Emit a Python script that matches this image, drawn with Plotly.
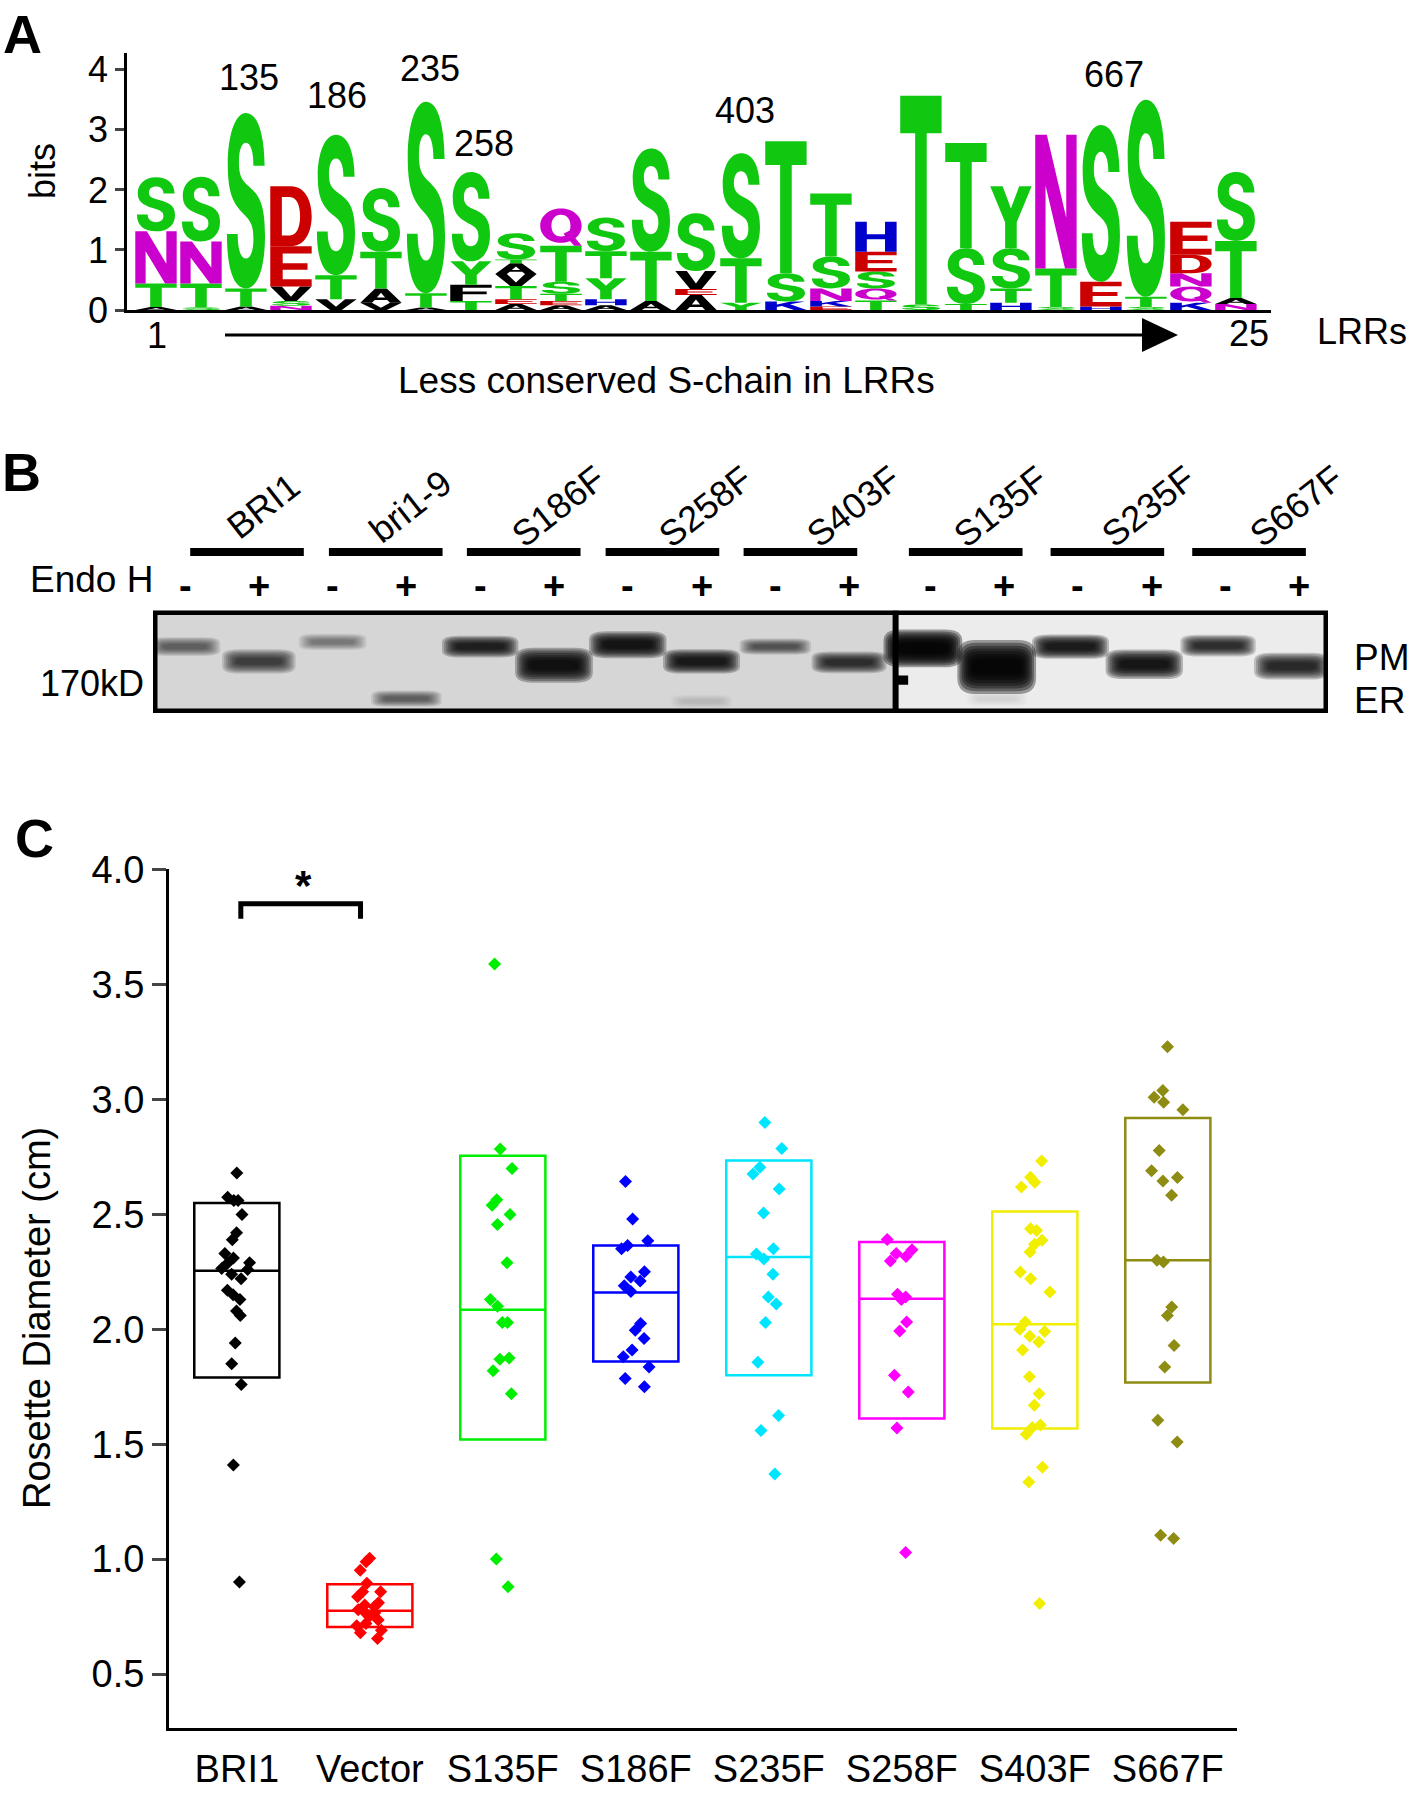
import plotly.graph_objects as go

W, H = 1417, 1794

# ---------------- panel A : sequence logo (letters bottom -> top, bits)
logo_positions = list(range(1, 26))
logo_letters = ["ATNS", "STNS", "ATS", "NSVED", "VTS", "VATS", "ATS", "TFYS",
                "AETVATS", "AETSTQ", "AHYTS", "ATS", "AEVS", "YTS", "KST",
                "EKNST", "TQSEH", "ST", "TST", "HTSY", "STN", "HES", "STS",
                "KQNDE", "NATS"]
logo_heights = [
    [0.05, 0.39, 0.87, 0.90], [0.04, 0.40, 0.70, 1.08], [0.06, 0.30, 2.92],
    [0.07, 0.08, 0.24, 0.67, 1.00], [0.18, 0.40, 2.34], [0.12, 0.24, 0.61, 1.06],
    [0.04, 0.24, 3.19], [0.15, 0.27, 0.39, 1.49],
    [0.10, 0.08, 0.22, 0.20, 0.18, 0.06, 0.44], [0.08, 0.07, 0.12, 0.20, 0.60, 0.62],
    [0.08, 0.10, 0.35, 0.45, 0.56], [0.15, 0.82, 1.72], [0.25, 0.10, 0.30, 0.96],
    [0.12, 0.74, 1.75], [0.14, 0.47, 2.20], [0.06, 0.09, 0.21, 0.53, 1.05],
    [0.16, 0.20, 0.28, 0.33, 0.50], [0.09, 3.48], [0.10, 0.93, 1.75],
    [0.12, 0.24, 0.67, 1.03], [0.05, 0.64, 2.23], [0.06, 0.41, 2.61],
    [0.05, 0.17, 3.28], [0.12, 0.27, 0.22, 0.31, 0.55], [0.10, 0.10, 0.95, 1.15]]
site_labels = ["135", "186", "235", "258", "403", "667"]

# ---------------- panel B : Endo H blot
blot_samples = ["BRI1", "bri1-9", "S186F", "S258F", "S403F", "S135F", "S235F", "S667F"]
endo_h = ["-", "+"] * 8
band_lane = [1, 2, 3, 4, 5, 6, 7, 8, 9, 10, 11, 12, 13, 14, 15, 16, 8, 12]
band_mobility = [34, 50, 29, 90, 34, 54, 32, 50, 34, 51, 36, 56, 34, 53, 33, 55, 93, 90]
band_intensity = [0.55, 0.70, 0.42, 0.55, 0.85, 0.92, 0.90, 0.88, 0.60, 0.78,
                  0.97, 0.97, 0.88, 0.90, 0.80, 0.82, 0.12, 0.10]
band_spread = [7, 9, 6, 6, 8, 13, 10, 9, 6, 8, 14, 20, 9, 11, 8, 10, 5, 6]

# ---------------- panel C : rosette diameter (cm)
genotypes = ["BRI1", "Vector", "S135F", "S186F", "S235F", "S258F", "S403F", "S667F"]
diam_bri1 = [2.68, 2.575, 2.56, 2.56, 2.50, 2.42, 2.39, 2.33, 2.31, 2.29, 2.29, 2.265,
             2.26, 2.24, 2.22, 2.17, 2.15, 2.13, 2.08, 2.06, 1.94, 1.85, 1.76, 1.41, 0.90]
diam_vector = [1.004, 0.988, 0.952, 0.895, 0.858, 0.858, 0.836, 0.81, 0.80, 0.793, 0.78,
               0.77, 0.765, 0.75, 0.735, 0.72, 0.71, 0.69, 0.68, 0.655]
diam_s135f = [3.59, 2.785, 2.70, 2.564, 2.54, 2.50, 2.456, 2.29, 2.13, 2.10, 2.03, 2.03,
              1.875, 1.87, 1.82, 1.72, 1.00, 0.88]
diam_s186f = [2.643, 2.48, 2.385, 2.365, 2.35, 2.25, 2.228, 2.21, 2.19, 2.165, 2.025,
              1.996, 1.96, 1.91, 1.88, 1.836, 1.786, 1.75]
diam_s235f = [2.90, 2.787, 2.705, 2.676, 2.61, 2.506, 2.35, 2.328, 2.306, 2.24, 2.14,
              2.11, 2.03, 1.857, 1.625, 1.56, 1.37]
diam_s258f = [2.391, 2.346, 2.33, 2.317, 2.297, 2.152, 2.14, 2.13, 2.032, 1.993, 1.80,
              1.727, 1.571, 1.029]
diam_s403f = [2.732, 2.662, 2.64, 2.619, 2.438, 2.43, 2.387, 2.37, 2.336, 2.249, 2.22,
              2.162, 2.032, 2.0, 1.99, 1.97, 1.945, 1.91, 1.793, 1.72, 1.67, 1.583,
              1.573, 1.543, 1.40, 1.336, 0.807]
diam_s667f = [3.23, 3.039, 3.01, 2.988, 2.955, 2.778, 2.69, 2.66, 2.645, 2.583, 2.30,
              2.293, 2.097, 2.06, 1.93, 1.836, 1.604, 1.51, 1.104, 1.09]
box_q1 = [1.79, 0.705, 1.52, 1.86, 1.80, 1.612, 1.568, 1.768]
box_median = [2.255, 0.775, 2.085, 2.16, 2.315, 2.133, 2.022, 2.30]
box_q3 = [2.55, 0.89, 2.755, 2.365, 2.735, 2.38, 2.513, 2.92]

diameters = [diam_bri1, diam_vector, diam_s135f, diam_s186f,
             diam_s235f, diam_s258f, diam_s403f, diam_s667f]
geno_colours = ["#000000", "#ff0000", "#00ee00", "#0000ff",
                "#00e5ff", "#ff00ff", "#f2ee00", "#8e8c13"]

FONT = "Liberation Sans, Arial, sans-serif"


def px(x):
    return x / W


def py(y):
    return 1 - y / H


# ---------- letter outlines in a unit box (y up)
def poly(*pts):
    return [("M", [pts[0]])] + [("L", [p]) for p in pts[1:]] + [("Z", [])]


GLYPHS = {
    "S": [[("M", [(0.95, 0.70)]),
           ("C", [(0.94, 0.90), (0.76, 1.00), (0.50, 1.00)]),
           ("C", [(0.22, 1.00), (0.06, 0.86), (0.06, 0.71)]),
           ("C", [(0.06, 0.55), (0.18, 0.49), (0.42, 0.43)]),
           ("C", [(0.64, 0.38), (0.68, 0.35), (0.68, 0.28)]),
           ("C", [(0.68, 0.21), (0.60, 0.17), (0.50, 0.17)]),
           ("C", [(0.38, 0.17), (0.30, 0.22), (0.30, 0.31)]),
           ("L", [(0.04, 0.31)]),
           ("C", [(0.04, 0.10), (0.22, 0.00), (0.50, 0.00)]),
           ("C", [(0.80, 0.00), (0.96, 0.13), (0.96, 0.30)]),
           ("C", [(0.96, 0.48), (0.82, 0.53), (0.58, 0.58)]),
           ("C", [(0.38, 0.62), (0.33, 0.65), (0.33, 0.72)]),
           ("C", [(0.33, 0.79), (0.40, 0.83), (0.50, 0.83)]),
           ("C", [(0.61, 0.83), (0.68, 0.78), (0.68, 0.70)]),
           ("Z", [])]],
    "T": [poly((0, 1), (1, 1), (1, 0.82), (0.64, 0.82), (0.64, 0), (0.36, 0), (0.36, 0.82), (0, 0.82))],
    "E": [poly((0, 0), (1, 0), (1, 0.18), (0.3, 0.18), (0.3, 0.42), (0.9, 0.42), (0.9, 0.58),
               (0.3, 0.58), (0.3, 0.82), (1, 0.82), (1, 1), (0, 1))],
    "F": [poly((0, 0), (0.3, 0), (0.3, 0.42), (0.88, 0.42), (0.88, 0.58), (0.3, 0.58),
               (0.3, 0.82), (1, 0.82), (1, 1), (0, 1))],
    "H": [poly((0, 0), (0.28, 0), (0.28, 0.42), (0.72, 0.42), (0.72, 0), (1, 0), (1, 1),
               (0.72, 1), (0.72, 0.58), (0.28, 0.58), (0.28, 1), (0, 1))],
    "N": [poly((0, 0), (0.25, 0), (0.25, 0.62), (0.72, 0), (1, 0), (1, 1), (0.75, 1),
               (0.75, 0.38), (0.28, 1), (0, 1))],
    "Y": [poly((0.36, 0), (0.64, 0), (0.64, 0.42), (1, 1), (0.7, 1), (0.5, 0.64), (0.3, 1),
               (0, 1), (0.36, 0.42))],
    "V": [poly((0.36, 0), (0.64, 0), (1, 1), (0.72, 1), (0.5, 0.3), (0.28, 1), (0, 1))],
    "K": [poly((0, 0), (0.28, 0), (0.28, 0.36), (0.40, 0.48), (0.70, 0), (1, 0), (0.60, 0.67),
               (0.96, 1), (0.62, 1), (0.28, 0.64), (0.28, 1), (0, 1))],
    "A": [poly((0, 0), (0.28, 0), (0.35, 0.2), (0.65, 0.2), (0.72, 0), (1, 0), (0.64, 1), (0.36, 1)),
          poly((0.40, 0.36), (0.5, 0.70), (0.60, 0.36))],
    "D": [[("M", [(0, 0)]), ("L", [(0.5, 0)]),
           ("C", [(0.84, 0), (1, 0.24), (1, 0.5)]),
           ("C", [(1, 0.76), (0.84, 1), (0.5, 1)]),
           ("L", [(0, 1)]), ("Z", [])],
          [("M", [(0.28, 0.18)]), ("L", [(0.28, 0.82)]), ("L", [(0.47, 0.82)]),
           ("C", [(0.64, 0.82), (0.72, 0.68), (0.72, 0.5)]),
           ("C", [(0.72, 0.32), (0.64, 0.18), (0.47, 0.18)]), ("Z", [])]],
    "Q": [[("M", [(0.5, 0.08)]),
           ("C", [(0.78, 0.08), (1, 0.28), (1, 0.54)]),
           ("C", [(1, 0.80), (0.78, 1), (0.5, 1)]),
           ("C", [(0.22, 1), (0, 0.80), (0, 0.54)]),
           ("C", [(0, 0.28), (0.22, 0.08), (0.5, 0.08)]), ("Z", [])],
          [("M", [(0.5, 0.25)]),
           ("C", [(0.35, 0.25), (0.27, 0.38), (0.27, 0.54)]),
           ("C", [(0.27, 0.70), (0.35, 0.83), (0.5, 0.83)]),
           ("C", [(0.65, 0.83), (0.73, 0.70), (0.73, 0.54)]),
           ("C", [(0.73, 0.38), (0.65, 0.25), (0.5, 0.25)]), ("Z", [])],
          poly((0.56, 0.32), (0.82, 0.0), (1.0, 0.0), (0.70, 0.40))],
}

AA_COLOUR = {"S": "#10c810", "T": "#10c810", "Y": "#10c810",
             "N": "#cc00cc", "Q": "#cc00cc",
             "D": "#cc0000", "E": "#cc0000",
             "H": "#0000cc", "K": "#0000cc",
             "A": "#000000", "V": "#000000", "F": "#000000"}


def glyph_path(letter, xc, y0, h, w=0.92):
    parts = []
    for sub in GLYPHS[letter]:
        for cmd, pts in sub:
            coords = " ".join(f"{xc - w / 2 + x * w:.4f},{y0 + y * h:.4f}" for x, y in pts)
            parts.append(cmd + coords)
    return " ".join(parts)


def rounded_rect(xc, yc, hw, hh):
    rx, ry = hw * 0.45, hh * 0.6
    x0, x1, y0, y1 = xc - hw, xc + hw, yc - hh, yc + hh
    return (f"M{x0 + rx},{y0} L{x1 - rx},{y0} Q{x1},{y0} {x1},{y0 + ry} L{x1},{y1 - ry} "
            f"Q{x1},{y1} {x1 - rx},{y1} L{x0 + rx},{y1} Q{x0},{y1} {x0},{y1 - ry} "
            f"L{x0},{y0 + ry} Q{x0},{y0} {x0 + rx},{y0} Z")


def note(text, x, y, xref="paper", yref="paper", size=36, xanchor="center", **kw):
    return dict(text=text, x=x, y=y, xref=xref, yref=yref, showarrow=False,
                xanchor=xanchor, yanchor="middle", font=dict(size=size), **kw)


fig = go.Figure()
shapes = []
annotations = []

# ---------------- panel A
fig.add_trace(go.Scatter(x=logo_positions, y=[0] * len(logo_positions), mode="markers",
                         marker=dict(opacity=0), hoverinfo="skip", xaxis="x", yaxis="y"))
for pos, letters, heights in zip(logo_positions, logo_letters, logo_heights):
    base = 0.0
    for letter, h in zip(letters, heights):
        shapes.append(dict(type="path", path=glyph_path(letter, pos, base, h),
                           xref="x", yref="y", fillcolor=AA_COLOUR[letter],
                           line=dict(width=0), fillrule="nonzero", layer="above"))
        base += h

site_x = [3.07, 5.03, 7.1, 8.3, 14.1, 22.3]
site_y = [3.88, 3.58, 4.02, 2.77, 3.33, 3.92]
for lab, sx, sy in zip(site_labels, site_x, site_y):
    annotations.append(note(lab, sx, sy, xref="x", yref="y"))

annotations += [
    note("1", px(157), py(335)),
    note("25", px(1249), py(333)),
    note("LRRs", px(1362), py(332)),
    note("Less conserved S-chain in LRRs", px(666), py(381), size=37),
    note("bits", px(42), py(171), textangle=-90),
]
# arrow under the logo
shapes.append(dict(type="line", x0=px(225), x1=px(1150), y0=py(335), y1=py(335),
                   xref="paper", yref="paper", line=dict(color="black", width=3)))
shapes.append(dict(type="path",
                   path=f"M{px(1142)},{py(318)} L{px(1178)},{py(335)} L{px(1142)},{py(352)} Z",
                   xref="paper", yref="paper", fillcolor="black", line=dict(width=0)))

# ---------------- panel B
fig.add_trace(go.Scatter(x=band_lane, y=band_mobility, mode="markers",
                         marker=dict(opacity=0), hoverinfo="skip", xaxis="x2", yaxis="y2"))
split = 10.63
bx0, bx1, by0, by1 = 0.566, 16.49, -4.8, 105.4
shapes.append(dict(type="rect", x0=bx0, x1=split, y0=by0, y1=by1, xref="x2", yref="y2",
                   fillcolor="#d6d6d6", line=dict(width=0), layer="below"))
shapes.append(dict(type="rect", x0=split, x1=bx1, y0=by0, y1=by1, xref="x2", yref="y2",
                   fillcolor="#ececec", line=dict(width=0), layer="below"))
n_layers = 8
for lane, mob, inten, spread in zip(band_lane, band_mobility, band_intensity, band_spread):
    hw = 0.36 + 0.12 * inten
    alpha = 1 - (1 - inten) ** (1 / n_layers)
    for k in range(n_layers):
        shapes.append(dict(type="path",
                           path=rounded_rect(lane, mob, hw * (1.12 - 0.06 * k),
                                             spread * (1.45 - 0.15 * k)),
                           xref="x2", yref="y2", fillcolor=f"rgba(0,0,0,{alpha:.3f})",
                           line=dict(width=0)))
shapes.append(dict(type="rect", x0=bx0, x1=bx1, y0=by0, y1=by1, xref="x2", yref="y2",
                   line=dict(color="black", width=9), fillcolor="rgba(0,0,0,0)"))
shapes.append(dict(type="line", x0=split, x1=split, y0=by0, y1=by1, xref="x2", yref="y2",
                   line=dict(color="black", width=6)))
# marker tabs: 170kD (left, divider) and PM / ER (right)
for tx0, tx1, ty in [(0.36, 0.60, 70), (split, 10.8, 70), (16.45, 16.73, 48), (16.45, 16.73, 92)]:
    shapes.append(dict(type="rect", x0=tx0, x1=tx1, y0=ty - 5, y1=ty + 5, xref="x2", yref="y2",
                       fillcolor="black", line=dict(width=0)))

bar_centres = [1.84, 3.72, 5.59, 7.47, 9.34, 11.58, 13.50, 15.42]
for k, (name, bc) in enumerate(zip(blot_samples, bar_centres)):
    shapes.append(dict(type="line", x0=bc - 0.77, x1=bc + 0.77, y0=py(552), y1=py(552),
                       xref="x2", yref="paper", line=dict(color="black", width=8)))
    annotations.append(note(name, 2 * k + 2.05, py(506), xref="x2", textangle=-38))
for lane, sign in zip(range(1, 17), endo_h):
    xs = lane + (0.1 if lane > 10 else 0.0)
    annotations.append(note(f"<b>{sign}</b>", xs, py(586), xref="x2", size=38))
annotations += [
    note("Endo H", px(91), py(580), size=37),
    note("170kD", px(146), py(684), xanchor="right"),
    note("PM", px(1352), py(657), size=37, xanchor="left"),
    note("ER", px(1352), py(701), size=37, xanchor="left"),
]

# ---------------- panel C
for name, vals, col, q1, med, q3 in zip(genotypes, diameters, geno_colours,
                                        box_q1, box_median, box_q3):
    fig.add_trace(go.Box(x=[name], q1=[q1], median=[med], q3=[q3], lowerfence=[q1],
                         upperfence=[q3], width=0.64, whiskerwidth=0, boxpoints=False,
                         line=dict(color=col, width=2.5), fillcolor="rgba(255,255,255,0)",
                         xaxis="x3", yaxis="y3", name=name))
    fig.add_trace(go.Box(x=[name] * len(vals), y=vals, width=0.64, boxpoints="all",
                         jitter=0.4, pointpos=0, line=dict(width=0),
                         fillcolor="rgba(0,0,0,0)",
                         marker=dict(symbol="diamond", size=10, color=col),
                         xaxis="x3", yaxis="y3", name=name))

# significance bracket BRI1 vs Vector
sig_pair, sig_y = (0.03, 0.93), 3.852
shapes.append(dict(type="path",
                   path=f"M{sig_pair[0]},{sig_y - 0.065} L{sig_pair[0]},{sig_y} "
                        f"L{sig_pair[1]},{sig_y} L{sig_pair[1]},{sig_y - 0.065}",
                   xref="x3", yref="y3", line=dict(color="black", width=5)))
annotations.append(note("<b>*</b>", 0.5, 3.93, xref="x3", yref="y3", size=42))
annotations.append(note("Rosette Diameter (cm)", px(37), py(1318), size=38, textangle=-90))

# panel letters
for lab, lx, ly in [("A", 22, 34), ("B", 21, 472), ("C", 34, 838)]:
    annotations.append(note(f"<b>{lab}</b>", px(lx), py(ly), size=54))

hidden = dict(showgrid=False, zeroline=False, showticklabels=False, ticks="", showline=False,
              automargin=False)
fig.update_layout(
    width=W, height=H, margin=dict(l=0, r=0, t=0, b=0, autoexpand=False),
    paper_bgcolor="white", plot_bgcolor="white", showlegend=False, boxmode="overlay",
    font=dict(family=FONT, color="black"),
    xaxis=dict(domain=[px(127), px(1271)], range=[0.356, 25.78], anchor="y",
               showline=True, linewidth=3, linecolor="black", ticks="",
               showticklabels=False, showgrid=False, zeroline=False, automargin=False),
    yaxis=dict(domain=[py(310), py(53)], range=[0, 4.28], anchor="x",
               showline=True, linewidth=2.5, linecolor="black", ticks="outside",
               ticklen=9, tickwidth=2.5, tickvals=[0, 1, 2, 3, 4],
               tickfont=dict(size=36), showgrid=False, zeroline=False, automargin=False),
    xaxis2=dict(domain=[px(153), px(1328)], range=[bx0, bx1], anchor="y2", **hidden),
    yaxis2=dict(domain=[py(713), py(610.5)], range=[by1, by0], anchor="x2", **hidden),
    xaxis3=dict(domain=[px(169), px(1237)], type="category", categoryorder="array",
                categoryarray=genotypes, range=[-0.51, 7.52], anchor="y3",
                showline=True, linewidth=3, linecolor="black", ticks="",
                tickfont=dict(size=38), ticklabelstandoff=5, showgrid=False,
                automargin=False),
    yaxis3=dict(domain=[py(1728), py(869)], range=[0.265, 4.003], anchor="x3",
                tickvals=[0.5, 1.0, 1.5, 2.0, 2.5, 3.0, 3.5, 4.0], tickformat=".1f",
                ticks="outside", ticklen=14, tickwidth=3, tickfont=dict(size=38),
                showline=True, linewidth=3, linecolor="black", showgrid=False,
                zeroline=False, automargin=False),
    shapes=shapes,
    annotations=annotations,
)

# the page body has a default 8px margin; remove it so the figure fills the window
fig.write_html("out.html", config={"displayModeBar": False},
               post_script="document.body.style.margin='0px';")
